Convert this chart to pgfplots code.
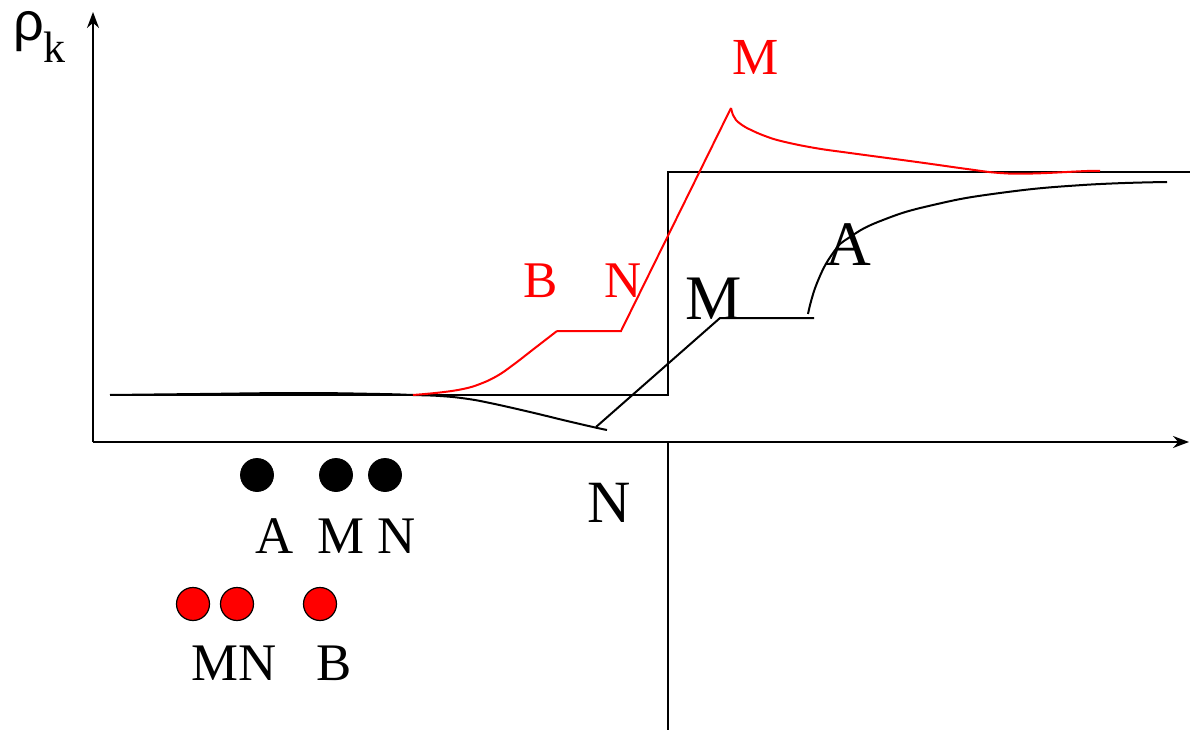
\documentclass[border=0pt]{standalone}
\usepackage{fontspec}
\setmainfont{Liberation Serif}
\newfontfamily\sansgr{Liberation Sans}
\usepackage{pgfplots}
\pgfplotsset{compat=1.18}
\usetikzlibrary{arrows.meta}

\newcommand{\fs}[1]{\fontsize{#1}{1.2\dimexpr#1\relax}\selectfont}

\begin{document}
\begin{tikzpicture}
\begin{axis}[
  width=595pt, height=365pt, scale only axis,
  xmin=0, xmax=1190, ymin=0, ymax=730,
  hide axis, clip=false,
]
% coordinate axes
\addplot[black, line width=0.9pt, -{Stealth[length=8pt,width=6pt]}]
  coordinates {(93,288) (1189,288)};
\addplot[black, line width=0.9pt, -{Stealth[length=8pt,width=6pt]}]
  coordinates {(93,288) (93,718)};
% separator below the axis
\addplot[black, line width=0.9pt] coordinates {(668,288) (668,0)};
% step profile
\addplot[black, line width=1pt] coordinates {(110,335) (668,335) (668,558) (1190,558)};

% black profile: dip, ramp and plateau
\addplot[black, line width=1pt, smooth, tension=0.7] coordinates {
  (110,335) (200,336) (300,337) (380,336) (413,335) (440,334)
  (465,331.5) (490,327) (530,318) (563,310) (593,303) (607,300)};
\addplot[black, line width=1pt] coordinates {(596,303) (720,412) (814,412)};
\addplot[black, line width=1pt, smooth, tension=0.8] coordinates {
  (808,416) (817,447) (833,477) (850,493) (883,510) (933,525)
  (1000,537) (1083,545) (1167,548)};

% red profile
\addplot[red, line width=1pt, smooth, tension=0.7] coordinates {
  (413,335) (440,337.5) (463,341) (480,346) (497,354) (513,365)
  (535,382) (557,399)};
\addplot[red, line width=1pt] coordinates {(557,399) (621,399) (731,622)};
\addplot[red, line width=1pt, smooth, tension=0.7] coordinates {
  (731,622) (733,615) (736,610) (742,605) (750,600.5) (765,594)
  (783,588.5) (815,582) (850,577) (917,568) (967,561) (1000,557)
  (1033,556.5) (1087,559) (1100,559)};

% markers
\addplot[only marks, mark=*, mark size=8.25pt, black]
  coordinates {(257,255) (336,255) (385,255)};
\addplot[only marks, mark=*, mark size=8.25pt,
  mark options={draw=black, fill=red, line width=0.6pt}]
  coordinates {(193,126) (237,126) (320,126)};

% labels
\node[anchor=base, font=\fs{26.4pt}] at (axis cs:275,177) {A};
\node[anchor=base, font=\fs{26.4pt}] at (axis cs:341,177) {M};
\node[anchor=base, font=\fs{26.4pt}] at (axis cs:397,177) {N};
\node[anchor=base, font=\fs{26.4pt}] at (axis cs:234,50) {MN};
\node[anchor=base, font=\fs{26.4pt}] at (axis cs:334,50) {B};

\node[anchor=base, font=\fs{30pt}] at (axis cs:609,208) {N};
\node[anchor=base, font=\fs{31.7pt}] at (axis cs:714,410) {M};
\node[anchor=base, font=\fs{31.7pt}] at (axis cs:848,465) {A};

\node[anchor=base, font=\fs{26pt}, text=red] at (axis cs:756,655) {M};
\node[anchor=base, font=\fs{25.7pt}, text=red] at (axis cs:541,433) {B};
\node[anchor=base, font=\fs{25.7pt}, text=red] at (axis cs:623,433) {N};

\node[anchor=base west, inner sep=0pt, font=\fs{27pt}\sansgr] at (axis cs:13,689) {ρ};
\node[anchor=base west, inner sep=0pt, font=\fs{22pt}] at (axis cs:43,667) {k};
\end{axis}
\pgfresetboundingbox
\path[use as bounding box] (current axis.south west) rectangle (current axis.north east);
\end{tikzpicture}
\end{document}
